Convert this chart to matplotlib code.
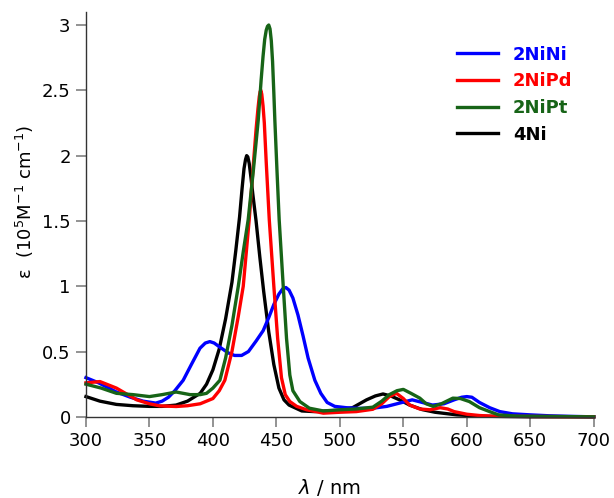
import matplotlib
matplotlib.use('Agg')
import matplotlib.pyplot as plt
from matplotlib.ticker import FuncFormatter

# absorption spectra (wavelength in nm, epsilon in 1e5 M-1 cm-1)
wl_nini = [300, 310, 324, 335, 345, 355, 360, 365, 370, 376.6, 383, 389.8, 394, 397.6, 401, 406,
           412, 417, 422.6, 428, 434, 439.6, 444, 448, 452, 455, 457.5, 460, 463, 467, 471, 475,
           480.3, 485, 490, 496, 505, 515, 526, 537, 547, 557, 565, 573, 582, 590, 596, 600, 604,
           610, 618, 626, 636, 650, 665, 680, 700]
eps_nini = [0.30, 0.26, 0.19, 0.15, 0.12, 0.105, 0.12, 0.15, 0.20, 0.28, 0.40, 0.525, 0.565, 0.576,
            0.565, 0.53, 0.49, 0.47, 0.47, 0.50, 0.58, 0.66, 0.76, 0.86, 0.94, 0.98, 0.99, 0.97,
            0.91, 0.78, 0.62, 0.45, 0.28, 0.18, 0.11, 0.08, 0.07, 0.065, 0.066, 0.08, 0.105, 0.13,
            0.11, 0.09, 0.10, 0.13, 0.15, 0.155, 0.15, 0.11, 0.07, 0.04, 0.023, 0.015, 0.008,
            0.004, 0.0]

wl_nipd = [300, 311, 324, 340, 350, 358, 371, 380, 390, 400, 405, 409.4, 415, 420, 423.9, 428.6,
           432, 434, 435.5, 436.5, 437.2, 437.8, 438.5, 439.5, 440.5, 442, 444.4, 448, 451, 454,
           457, 460.6, 466, 473.8, 487, 500, 513, 526, 533, 539, 544.6, 550, 555, 563, 571, 579,
           585, 590, 600, 610, 620, 700]
eps_nipd = [0.26, 0.27, 0.22, 0.13, 0.10, 0.084, 0.079, 0.085, 0.10, 0.14, 0.20, 0.28, 0.50, 0.77,
            1.0, 1.51, 1.95, 2.2, 2.36, 2.45, 2.49, 2.5, 2.47, 2.38, 2.25, 1.95, 1.51, 1.0, 0.6,
            0.3, 0.17, 0.117, 0.08, 0.054, 0.028, 0.035, 0.04, 0.058, 0.10, 0.155, 0.18, 0.14,
            0.09, 0.06, 0.054, 0.07, 0.06, 0.04, 0.02, 0.01, 0.005, 0.0]

wl_nipt = [300, 312, 324, 337, 350, 360, 371, 382, 390, 395, 400, 405.5, 410, 415, 420, 424, 427.8,
           432, 435.7, 438, 439.5, 440.8, 442, 443, 444, 445, 446, 447, 448, 448.8, 450.5, 452.2,
           455.4, 458, 460.6, 463, 468.5, 476, 487, 500, 513, 526, 533, 539, 545, 550, 556, 563,
           568, 573.5, 580, 589, 595, 602, 610, 618, 625, 640, 700]
eps_nipt = [0.25, 0.22, 0.18, 0.17, 0.155, 0.17, 0.19, 0.17, 0.17, 0.18, 0.22, 0.28, 0.45, 0.70, 1.0,
            1.27, 1.51, 1.90, 2.27, 2.58, 2.76, 2.89, 2.96, 2.99, 3.0, 2.97, 2.88, 2.72, 2.48, 2.27,
            1.88, 1.51, 1.0, 0.6, 0.32, 0.2, 0.117, 0.066, 0.045, 0.054, 0.06, 0.074, 0.12, 0.17,
            0.20, 0.21, 0.18, 0.143, 0.10, 0.08, 0.10, 0.143, 0.14, 0.117, 0.07, 0.04, 0.015,
            0.005, 0.0]

wl_4ni = [300, 311, 324, 337, 350, 360, 371, 380, 390, 395, 400, 405, 410, 415, 418, 421, 423, 424.5,
          425.7, 426.6, 427.5, 428.6, 430, 431.5, 434, 437, 440, 444, 448, 452, 456, 460, 470, 480,
          500, 510, 521, 528, 534, 540, 547, 555, 565, 575, 592, 610, 650, 700]
eps_4ni = [0.155, 0.12, 0.095, 0.085, 0.08, 0.08, 0.09, 0.12, 0.18, 0.25, 0.36, 0.52, 0.75, 1.03,
           1.27, 1.53, 1.75, 1.90, 1.97, 2.0, 1.99, 1.94, 1.83, 1.70, 1.5, 1.22, 0.96, 0.65, 0.40,
           0.22, 0.13, 0.09, 0.045, 0.04, 0.05, 0.07, 0.13, 0.16, 0.175, 0.16, 0.13, 0.09, 0.055,
           0.035, 0.015, 0.005, 0.0, 0.0]

series = [
    ('4Ni', wl_4ni, eps_4ni, '#000000'),
    ('2NiNi', wl_nini, eps_nini, '#0000ff'),
    ('2NiPd', wl_nipd, eps_nipd, '#ff0000'),
    ('2NiPt', wl_nipt, eps_nipt, '#176417'),
]
legend_order = ['2NiNi', '2NiPd', '2NiPt', '4Ni']

fig = plt.figure(figsize=(6.14, 4.98), dpi=100)
ax = fig.add_axes([0.140, 0.163, 0.827, 0.813])

lines = {}
for name, x, y, c in series:
    lines[name], = ax.plot(x, y, color=c, lw=2.4, label=name, clip_on=False,
                           solid_joinstyle='round')

ax.set_xlim(300, 700)
ax.set_ylim(0, 3.1)
ax.set_xticks(range(300, 701, 50))
ax.set_yticks([0, 0.5, 1, 1.5, 2, 2.5, 3])
ax.yaxis.set_major_formatter(FuncFormatter(lambda v, p: f'{v:g}'))

for s in ['top', 'right']:
    ax.spines[s].set_visible(False)
for s in ['left', 'bottom']:
    ax.spines[s].set_color('#333333')
    ax.spines[s].set_linewidth(1.0)
ax.tick_params(direction='out', length=7, width=1.2, color='#808080',
               labelsize=13, pad=4)

ax.set_xlabel(r'$\lambda$ / nm', fontsize=14)
ax.xaxis.set_label_coords(0.48, -0.148)
ax.set_ylabel(r'ε  (10$^5$M$^{-1}$ cm$^{-1}$)', fontsize=13)
ax.yaxis.set_label_coords(-0.098, 0.53)

leg = ax.legend([lines[n] for n in legend_order], legend_order, loc='upper right',
                bbox_to_anchor=(0.99, 0.957), frameon=False, handlelength=2.3,
                handletextpad=0.8, labelspacing=0.48, prop={'weight': 'bold', 'size': 13})
for txt, n in zip(leg.get_texts(), legend_order):
    txt.set_color(lines[n].get_color())

fig.savefig('out.png', dpi=100)
